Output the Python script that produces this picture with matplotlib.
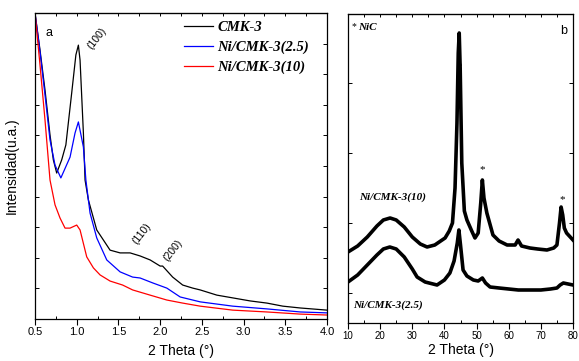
import matplotlib
matplotlib.use("Agg")
import matplotlib.pyplot as plt
from matplotlib.ticker import MultipleLocator

# ---------------- Panel a data (SAXS) ----------------
cmk_x = [0.50, 0.56, 0.62, 0.68, 0.72, 0.76, 0.82, 0.87, 0.94, 0.99, 1.02, 1.04, 1.08, 1.10,
         1.14, 1.24, 1.40, 1.52, 1.64, 1.76, 1.88, 2.00, 2.03, 2.15, 2.27, 2.39, 2.48, 2.68,
         2.87, 3.08, 3.28, 3.47, 3.68, 4.00]
cmk_y = [10.0, 8.79, 7.48, 6.01, 5.20, 4.77, 5.20, 5.69, 7.39, 8.63, 8.95, 8.46, 6.08, 4.54,
         3.89, 2.91, 2.25, 2.16, 2.16, 2.06, 1.93, 1.73, 1.73, 1.37, 1.11, 1.01, 0.95, 0.78,
         0.69, 0.59, 0.52, 0.42, 0.36, 0.29]

ni25_x = [0.50, 0.56, 0.62, 0.68, 0.74, 0.81, 0.92, 0.98, 1.02, 1.08, 1.11, 1.16, 1.24, 1.36,
          1.52, 1.67, 1.76, 1.91, 2.08, 2.24, 2.48, 2.87, 3.28, 3.68, 4.00]
ni25_y = [10.0, 8.73, 7.32, 5.85, 5.03, 4.61, 5.29, 6.08, 6.44, 5.62, 4.54, 3.46, 2.65, 1.93,
          1.54, 1.37, 1.34, 1.18, 1.01, 0.72, 0.56, 0.42, 0.33, 0.23, 0.20]

ni10_x = [0.50, 0.56, 0.62, 0.68, 0.74, 0.80, 0.86, 0.92, 1.00, 1.04, 1.12, 1.20, 1.28, 1.40,
          1.55, 1.67, 1.88, 2.08, 2.27, 2.48, 2.87, 3.28, 3.68, 4.00]
ni10_y = [10.0, 8.30, 6.50, 4.54, 3.73, 3.30, 2.97, 2.97, 3.07, 2.91, 2.03, 1.67, 1.44, 1.24,
          1.11, 0.95, 0.78, 0.62, 0.52, 0.42, 0.29, 0.23, 0.16, 0.13]

labels_a = ["CMK-3", "Ni/CMK-3(2.5)", "Ni/CMK-3(10)"]
colors_a = ["black", "blue", "red"]

# ---------------- Panel b data (XRD) ----------------
xrd10_x = [10.0, 13.0, 16.0, 19.0, 21.0, 23.1, 25.0, 27.5, 30.0, 32.5, 34.6, 37.0, 40.2, 41.5,
           42.5, 43.3, 43.9, 44.3, 44.6, 44.9, 45.4, 46.2, 47.0, 48.5, 49.5, 50.5, 51.3, 51.8,
           52.3, 53.2, 55.1, 57.0, 59.5, 62.0, 62.9, 64.0, 66.6, 69.0, 71.9, 74.0, 75.0, 75.8,
           76.3, 76.8, 77.3, 78.0, 80.0]
xrd10_y = [71, 77, 86, 97, 103, 105, 103, 96, 86, 79, 76, 78, 85, 92, 100, 135, 200, 270, 290,
           255, 160, 112, 103, 92, 85, 90, 120, 143, 125, 110, 88, 82, 78, 78, 83, 77, 75, 74,
           73, 75, 78, 100, 116, 108, 95, 90, 83]

xrd25_x = [10.0, 13.0, 16.0, 19.0, 21.0, 23.0, 25.0, 27.5, 30.0, 31.5, 34.0, 37.7, 40.0, 41.7,
           43.0, 44.0, 44.5, 45.0, 45.8, 47.0, 49.0, 50.5, 51.8, 52.8, 54.2, 57.0, 60.0, 63.0,
           66.6, 70.0, 73.0, 75.0, 76.0, 77.0, 80.0]
xrd25_y = [41, 48, 58, 68, 74, 76, 74, 66, 54, 46, 41, 38, 43, 50, 62, 80, 93, 78, 53, 47, 43,
           42, 45, 40, 36, 35, 34, 33, 33, 33, 34, 35, 38, 40, 38]

star_pos = [(44.5, 256), (51.8, 153), (76.6, 123)]

# ---------------- Figure ----------------
fig = plt.figure(figsize=(5.79, 3.61), dpi=100)
sans = ["Liberation Sans", "DejaVu Sans"]
serif = ["Liberation Serif", "DejaVu Serif"]

# Panel a
ax1 = fig.add_axes([35/579, (361-319)/361, 292/579, 306/361])
for x, y, lab, c in zip([cmk_x, ni25_x, ni10_x], [cmk_y, ni25_y, ni10_y], labels_a, colors_a):
    ax1.plot(x, y, color=c, lw=0.9, label=lab)
ax1.set_xlim(0.5, 4.0)
ax1.set_ylim(0, 10)
ax1.xaxis.set_major_locator(MultipleLocator(0.5))
ax1.xaxis.set_minor_locator(MultipleLocator(0.25))
ax1.yaxis.set_major_locator(MultipleLocator(1))
ax1.set_yticklabels([])
ax1.tick_params(axis="x", which="major", direction="out", length=4, width=0.8,
                labelsize=8, pad=2, top=False)
ax1.tick_params(axis="x", which="minor", direction="in", length=2.5, width=0.7)
ax1.tick_params(axis="y", which="major", direction="in", length=3, width=0.7, right=True)
for lab in ax1.get_xticklabels():
    lab.set_family(sans)
sx = ax1.secondary_xaxis("top")
sx.xaxis.set_major_locator(MultipleLocator(0.25))
sx.tick_params(direction="in", length=2.5, width=0.7, labeltop=False)
ax1.set_xlabel("2 Theta (°)", fontsize=10, family=sans, labelpad=5)
ax1.set_ylabel("Intensidad(u.a.)", fontsize=10, family=sans, labelpad=8)
ax1.text(0.035, 0.955, "a", transform=ax1.transAxes, fontsize=9, family=sans, va="top")
ax1.text(1.24, 9.18, "(100)", rotation=52, fontsize=7.5, family=sans, ha="center", va="center")
ax1.text(1.78, 2.80, "(110)", rotation=52, fontsize=7.5, family=sans, ha="center", va="center")
ax1.text(2.15, 2.25, "(200)", rotation=52, fontsize=7.5, family=sans, ha="center", va="center")
leg = ax1.legend(loc="upper left", bbox_to_anchor=(0.51, 0.975), frameon=False,
                 prop={"family": serif, "weight": "bold", "style": "italic", "size": 10.5},
                 handlelength=2.0, handletextpad=0.3, labelspacing=0.45, borderpad=0,
                 borderaxespad=0)
for s in ax1.spines.values():
    s.set_linewidth(0.9)

# Panel b
ax2 = fig.add_axes([348/579, (361-323)/361, 225/579, 309/361])
ax2.plot(xrd10_x, xrd10_y, color="black", lw=2.6, solid_joinstyle="round")
ax2.plot(xrd25_x, xrd25_y, color="black", lw=2.6, solid_joinstyle="round")
ax2.set_xlim(10, 80)
ax2.set_ylim(0, 309)
ax2.xaxis.set_major_locator(MultipleLocator(10))
ax2.xaxis.set_minor_locator(MultipleLocator(5))
ax2.set_yticks([30, 100, 170, 240])
ax2.set_yticklabels([])
ax2.tick_params(axis="x", which="major", direction="out", length=4, width=0.8,
                labelsize=7, pad=2)
ax2.tick_params(axis="x", which="minor", direction="in", length=2.5, width=0.7)
ax2.tick_params(axis="y", which="major", direction="in", length=3, width=0.7, right=True)
for lab in ax2.get_xticklabels():
    lab.set_family(sans)
sx2 = ax2.secondary_xaxis("top")
sx2.xaxis.set_major_locator(MultipleLocator(5))
sx2.tick_params(direction="in", length=2.5, width=0.7, labeltop=False)
ax2.set_xlabel("2 Theta (°)", fontsize=10, family=sans, labelpad=1)
for (sxp, syp) in star_pos:
    ax2.text(sxp, syp, "*", fontsize=8, family=serif, ha="center", va="center")
ax2.text(11.2, 295, "* ", fontsize=7, family=serif, va="center")
ax2.text(13.2, 295, "NiC", fontsize=8, family=serif, style="italic", weight="bold", va="center")
ax2.text(0.975, 0.965, "b", transform=ax2.transAxes, fontsize=9, family=sans,
         ha="right", va="top")
ax2.text(13.5, 126, "Ni/CMK-3(10)", fontsize=8, family=serif, style="italic",
         weight="bold", va="center")
ax2.text(11.5, 18, "Ni/CMK-3(2.5)", fontsize=8, family=serif, style="italic",
         weight="bold", va="center")
for s in ax2.spines.values():
    s.set_linewidth(0.9)

fig.savefig("out.png", dpi=100)
